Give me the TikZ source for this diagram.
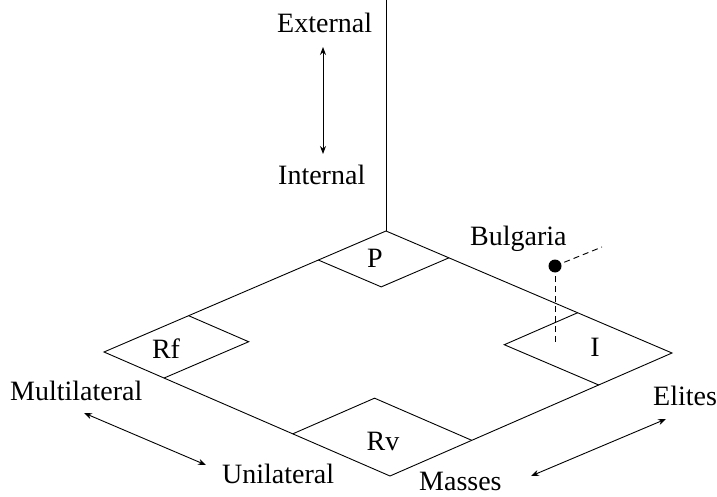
\documentclass[tikz,border=0pt]{standalone}
\usepackage{fontspec}
\setmainfont{LiberationSerif}[Extension=.ttf,UprightFont=*-Regular]
\usetikzlibrary{arrows.meta,calc}
\begin{document}
\begin{tikzpicture}[x=1pt,y=-1pt,
  edge/.style={line width=0.9pt},
  dashline/.style={line width=0.9pt, dash pattern=on 6pt off 4pt},
  lbl/.style={inner sep=0pt, font=\rmfamily\fontsize{28}{30}\selectfont},
  dbl/.style={line width=0.9pt, {Stealth[length=8pt,width=6pt]}-{Stealth[length=8pt,width=6pt]}}]
\useasboundingbox (0,0) rectangle (717,497);
% big rhombus
\coordinate (T) at (386,231);
\coordinate (R) at (672,353);
\coordinate (B) at (390,476);
\coordinate (L) at (104,352);
\coordinate (Top) at (386,0);
\draw[edge] (Top) -- (T);
\draw[edge] (T) -- (R) -- (B) -- (L) -- cycle;
% P diamond
\coordinate (Pa) at ($(T)!0.24!(L)$);
\coordinate (Pc) at ($(T)!0.22!(R)$);
\coordinate (Pd) at ($(Pa)+(Pc)-(T)$);
\draw[edge] (Pa) -- (Pd) -- (Pc);
% Rf diamond
\coordinate (Fa) at ($(L)!0.30!(T)$);
\coordinate (Fb) at ($(L)!0.21!(B)$);
\coordinate (Fd) at ($(Fa)+(Fb)-(L)$);
\draw[edge] (Fa) -- (Fd) -- (Fb);
% I diamond
\coordinate (Ia) at ($(R)!0.33!(T)$);
\coordinate (Ib) at ($(R)!0.26!(B)$);
\coordinate (Id) at ($(Ia)+(Ib)-(R)$);
\draw[edge] (Ia) -- (Id) -- (Ib);
% Rv diamond
\coordinate (Va) at ($(B)!0.34!(L)$);
\coordinate (Vb) at ($(B)!0.29!(R)$);
\coordinate (Vd) at ($(Va)+(Vb)-(B)$);
\draw[edge] (Va) -- (Vd) -- (Vb);
% diamond labels
\node[lbl, anchor=base] (lP) at (375,267) {P};
\node[lbl, anchor=base] (lRf) at (166,358) {Rf};
\node[lbl, anchor=base] (lI) at (595,356) {I};
\node[lbl, anchor=base] (lRv) at (383,450) {Rv};
% Bulgaria point
\node[lbl, anchor=base west] (bul) at (470,245) {Bulgaria};
\node[circle, fill=black, inner sep=0pt, minimum size=13pt] (dot) at (555,266) {};
\coordinate (dashEnd) at (602,247);
\coordinate (dashLow) at (555,343);
\draw[dashline] (dot.center) -- (dashEnd);
\draw[dashline] (dot.center) -- (dashLow);
% axis labels
\node[lbl, anchor=base west] (ext) at (277,33) {External};
\node[lbl, anchor=base west] (int) at (278,185) {Internal};
\node[lbl, anchor=base west] (mul) at (10,400) {Multilateral};
\node[lbl, anchor=base west] (uni) at (222,483) {Unilateral};
\node[lbl, anchor=base west] (mas) at (419,490) {Masses};
\node[lbl, anchor=base west] (eli) at (653,405) {Elites};
% arrows
\coordinate (a1) at (323,47);
\coordinate (a2) at (323,154);
\draw[dbl] (a1) -- (a2);
\coordinate (b1) at (84,413);
\coordinate (b2) at (206,465);
\draw[dbl] (b1) -- (b2);
\coordinate (c1) at (531,476);
\coordinate (c2) at (666,419);
\draw[dbl] (c1) -- (c2);
\end{tikzpicture}
\end{document}
